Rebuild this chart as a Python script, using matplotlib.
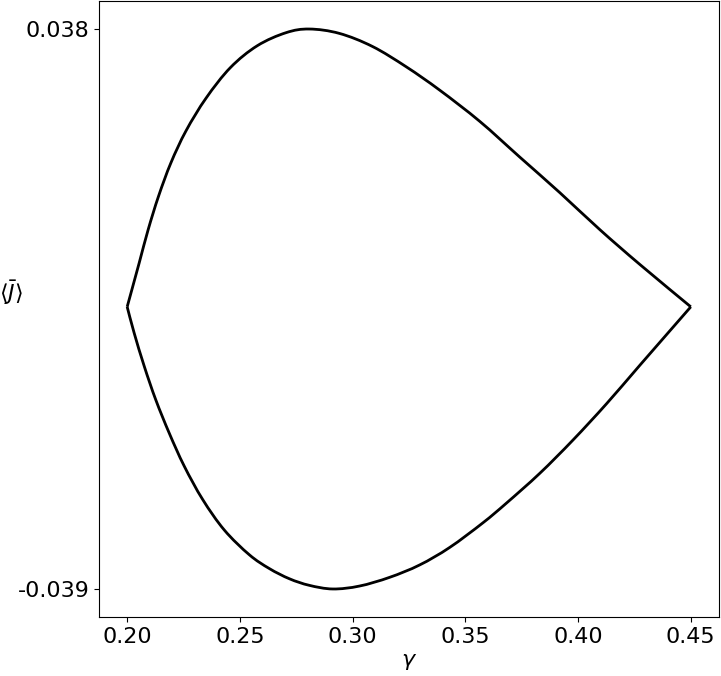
import matplotlib

matplotlib.use("Agg")
import matplotlib.pyplot as plt
import numpy as np
from matplotlib.patches import PathPatch
from matplotlib.path import Path

# upper branch of the loop (gamma, <J>)
upper_gamma = [0.2000, 0.2053, 0.2093, 0.2139, 0.2194, 0.2261, 0.2350, 0.2458, 0.2577,
               0.2705, 0.2808, 0.2941, 0.3088, 0.3238, 0.3386, 0.3564, 0.3741, 0.3919,
               0.4097, 0.4275, 0.4500]
upper_j = [-0.0002, 0.0058, 0.0104, 0.0150, 0.0196, 0.0240, 0.0285, 0.0327, 0.0357,
           0.0375, 0.0380, 0.0374, 0.0356, 0.0328, 0.0296, 0.0253, 0.0204, 0.0155,
           0.0104, 0.0056, -0.0002]

# lower branch, left to right
lower_gamma = [0.2000, 0.2031, 0.2076, 0.2127, 0.2187, 0.2253, 0.2335, 0.2431, 0.2542,
               0.2631, 0.2720, 0.2808, 0.2912, 0.3030, 0.3164, 0.3297, 0.3430, 0.3578,
               0.3682, 0.3830, 0.3978, 0.4127, 0.4275, 0.4500]
lower_j = [-0.0002, -0.0038, -0.0084, -0.0130, -0.0176, -0.0221, -0.0267, -0.0309, -0.0343,
           -0.0362, -0.0376, -0.0385, -0.0390, -0.0386, -0.0374, -0.0357, -0.0333, -0.0299,
           -0.0272, -0.0231, -0.0185, -0.0135, -0.0082, -0.0002]

y_ticks = [-0.039, 0.038]
y_tick_labels = ["-0.039", "0.038"]


def _smooth_path(xs, ys):
    # Catmull-Rom handles turned into cubic Bezier segments, so the line runs through every point
    pts = np.column_stack([xs, ys])
    verts = [pts[0]]
    codes = [Path.MOVETO]
    for i in range(len(pts) - 1):
        p0 = pts[max(i - 1, 0)]
        p1, p2 = pts[i], pts[i + 1]
        p3 = pts[min(i + 2, len(pts) - 1)]
        verts += [p1 + (p2 - p0) / 6.0, p2 - (p3 - p1) / 6.0, p2]
        codes += [Path.CURVE4] * 3
    return Path(verts, codes)


fig = plt.figure(figsize=(7.21, 6.76), dpi=100)
ax = fig.add_axes([0.1373, 0.0873, 0.8599, 0.9112])
for xs, ys in ((upper_gamma, upper_j), (lower_gamma, lower_j)):
    ax.add_patch(PathPatch(_smooth_path(xs, ys), facecolor="none", edgecolor="black",
                           linewidth=2, joinstyle="round"))
    # invisible trace so autoscaling sees the data
    ax.plot(xs, ys, alpha=0)

ax.set_xticks([0.20, 0.25, 0.30, 0.35, 0.40, 0.45])
ax.set_xticklabels(["0.20", "0.25", "0.30", "0.35", "0.40", "0.45"])
ax.set_yticks(y_ticks)
ax.set_yticklabels(y_tick_labels)
ax.tick_params(labelsize=16)

ax.set_xlabel(r"$\gamma$", fontsize=16)
ax.set_ylabel(r"$\langle \bar{J} \rangle$", fontsize=16, rotation=0, ha="center", va="center")
ax.yaxis.set_label_coords(-0.142, 0.526)

fig.savefig("out.png", dpi=100)
